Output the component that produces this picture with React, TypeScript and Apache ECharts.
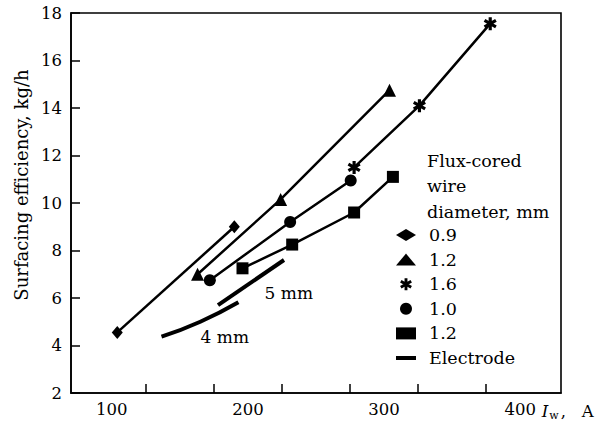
import React, { useEffect, useRef } from "react";
import * as echarts from "echarts";

// ---- data (welding current Iw, A ; surfacing efficiency, kg/h) ----
const wire09: number[][] = [[104, 4.55], [190, 9.0]];
const wire12Tri: number[][] = [[163, 7.0], [224, 10.15], [304, 14.75]];
const wire16: number[][] = [[278, 11.5], [326, 14.1], [378, 17.55]];
const wire10: number[][] = [[172, 6.75], [231, 9.2], [275.5, 10.95]];
const wire12Sq: number[][] = [[196, 7.25], [232.5, 8.25], [278, 9.6], [306.5, 11.1]];
const electrode5: number[][] = [[178, 5.7], [226.5, 7.6]];
const electrode4: number[][] = [[136.5, 4.37], [165, 5.0], [193, 5.82]];

const electrodeLabels = [
  { text: "5 mm", at: [230, 6.2] },
  { text: "4 mm", at: [183, 4.37] },
];

const xLabelValues = [100, 200, 300, 400];
const xTickValues = [125, 175, 225, 275, 325, 375];
const legendTitle = ["Flux-cored", "wire", "diameter, mm"];

const FONT = "DejaVu Serif";
const STAR =
  "path://M-12,-50L12,-50L12,50L-12,50Z M37.3,-35.4L49.3,-14.6L-37.3,35.4L-49.3,14.6Z M-49.3,-14.6L-37.3,-35.4L49.3,14.6L37.3,35.4Z";

export default function App() {
  const ref = useRef<HTMLDivElement>(null);

  useEffect(() => {
    if (!ref.current) return;
    const chart = echarts.init(ref.current, null, { renderer: "svg" });

    const lineSeries = (name: string, data: number[][], symbol: string, size: any) => ({
      name,
      type: "line",
      data,
      symbol,
      symbolSize: size,
      showSymbol: true,
      lineStyle: { color: "#000", width: 2.5 },
      itemStyle: { color: "#000", borderWidth: 0 },
      z: 3,
    });

    const electrodeSeries = (data: number[][], label: { text: string; at: number[] }, smooth: boolean) => ({
      name: "Electrode",
      type: "line",
      data,
      smooth,
      symbol: "none",
      lineStyle: { color: "#000", width: 4 },
      itemStyle: { color: "#000" },
      markPoint: {
        symbol: "circle",
        symbolSize: 0,
        silent: true,
        data: [{ coord: label.at }],
        label: {
          show: true,
          position: "inside",
          formatter: label.text,
          color: "#000",
          fontFamily: FONT,
          fontSize: 17,
        },
      },
    });

    const option: any = {
      animation: false,
      backgroundColor: "#fff",
      textStyle: { fontFamily: FONT },
      title: {
        text: legendTitle.join("\n"),
        left: 427,
        top: 148,
        padding: 0,
        textStyle: {
          fontFamily: FONT,
          fontSize: 17.5,
          fontWeight: "normal",
          color: "#000",
          lineHeight: 25.5,
        },
      },
      legend: {
        orient: "vertical",
        left: 396,
        top: 224,
        padding: 0,
        itemWidth: 20,
        itemHeight: 12,
        itemGap: 2.6,
        formatter: (n: string) => n.trim(),
        textStyle: {
          fontFamily: FONT,
          fontSize: 17.5,
          color: "#000",
          lineHeight: 22,
          padding: [0, 0, 0, 8],
        },
        data: [
          { name: "0.9", icon: "diamond" },
          { name: "1.2", icon: "triangle" },
          { name: "1.6", icon: STAR },
          { name: "1.0", icon: "circle" },
          { name: "1.2 ", icon: "rect" },
          { name: "Electrode", icon: "path://M0,0H20V4H0Z" },
        ],
      },
      grid: {
        left: 71,
        top: 13,
        width: 490,
        height: 380,
        show: true,
        borderColor: "#000",
        borderWidth: 1.6,
        backgroundColor: "transparent",
      },
      xAxis: {
        type: "value",
        min: 70,
        max: 430,
        name: "{i|I}{s|w}{t|,\u00a0\u00a0\u00a0A}",
        nameLocation: "end",
        nameGap: -28,
        nameTextStyle: {
          align: "left",
          verticalAlign: "middle",
          padding: [36, 0, 0, 0],
          color: "#000",
          fontFamily: FONT,
          fontSize: 16.5,
          rich: {
            i: { fontFamily: FONT, fontSize: 16.5, fontStyle: "italic", color: "#000" },
            s: { fontFamily: FONT, fontSize: 11, color: "#000", padding: [8, 2, 0, 1] },
            t: { fontFamily: FONT, fontSize: 16.5, color: "#000" },
          },
        },
        splitLine: { show: false },
        axisLine: { show: true, lineStyle: { color: "#000", width: 1.6 } },
        axisTick: {
          show: true,
          inside: true,
          length: 9,
          customValues: xTickValues,
          lineStyle: { color: "#000", width: 1.5 },
        },
        axisLabel: {
          customValues: xLabelValues,
          color: "#000",
          fontFamily: FONT,
          fontSize: 16.5,
          margin: 8,
        },
      },
      yAxis: {
        type: "value",
        min: 2,
        max: 18,
        interval: 2,
        name: "Surfacing efficiency, kg/h",
        nameLocation: "middle",
        nameGap: 34,
        nameTextStyle: {
          color: "#000",
          fontFamily: FONT,
          fontSize: 18,
          padding: [0, 0, 0, 36],
        },
        splitLine: { show: false },
        axisLine: { show: true, lineStyle: { color: "#000", width: 1.6 } },
        axisTick: { show: true, inside: true, length: 9, lineStyle: { color: "#000", width: 1.5 } },
        axisLabel: { color: "#000", fontFamily: FONT, fontSize: 16.5, margin: 9 },
      },
      series: [
        lineSeries("0.9", wire09, "diamond", [11, 13]),
        lineSeries("1.2", wire12Tri, "triangle", 13),
        lineSeries("1.6", wire16, STAR, 13),
        lineSeries("1.0", wire10, "circle", 12),
        lineSeries("1.2 ", wire12Sq, "rect", 12),
        electrodeSeries(electrode5, electrodeLabels[0], false),
        electrodeSeries(electrode4, electrodeLabels[1], true),
      ],
    };

    chart.setOption(option);
    return () => chart.dispose();
  }, []);

  return (
    <div
      ref={ref}
      style={{ position: "fixed", left: 0, top: 0, width: 615, height: 426, background: "#fff" }}
    />
  );
}
